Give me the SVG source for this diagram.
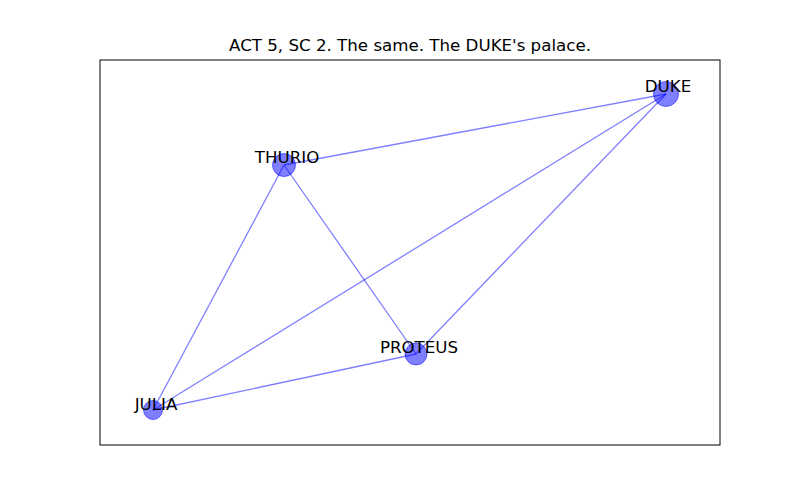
<svg xmlns="http://www.w3.org/2000/svg" width="800" height="500" viewBox="0 0 800 500">
<style>
.edge{stroke:#0000ff;stroke-opacity:0.5;stroke-width:1.3;fill:none}
.node{fill:#0000ff;fill-opacity:0.5;stroke:#0000ff;stroke-opacity:0.5;stroke-width:1}
.lbl{font-family:"DejaVu Sans",sans-serif;font-size:16.67px;fill:#000;text-anchor:middle}
</style>
<rect width="800" height="500" fill="#fff"/>
<text class="lbl" x="410" y="51">ACT 5, SC 2. The same. The DUKE's palace.</text>
<rect x="100" y="60" width="620" height="385" fill="none" stroke="#000" stroke-width="1"/>
<g id="edges">
<line class="edge" x1="666" y1="94" x2="284" y2="165"/>
<line class="edge" x1="666" y1="94" x2="153" y2="410"/>
<line class="edge" x1="666" y1="94" x2="416" y2="354"/>
<line class="edge" x1="284" y1="165" x2="153" y2="410"/>
<line class="edge" x1="284" y1="165" x2="416" y2="354"/>
<line class="edge" x1="416" y1="354" x2="153" y2="410"/>
</g>
<g id="DUKE"><circle class="node" cx="666" cy="94" r="12.5"/><text class="lbl" x="668" y="92">DUKE</text></g>
<g id="THURIO"><circle class="node" cx="284" cy="165" r="11.5"/><text class="lbl" x="287" y="163">THURIO</text></g>
<g id="PROTEUS"><circle class="node" cx="416" cy="354" r="11"/><text class="lbl" x="419" y="353">PROTEUS</text></g>
<g id="JULIA"><circle class="node" cx="153" cy="410" r="9.5"/><text class="lbl" x="156" y="410">JULIA</text></g>
</svg>
